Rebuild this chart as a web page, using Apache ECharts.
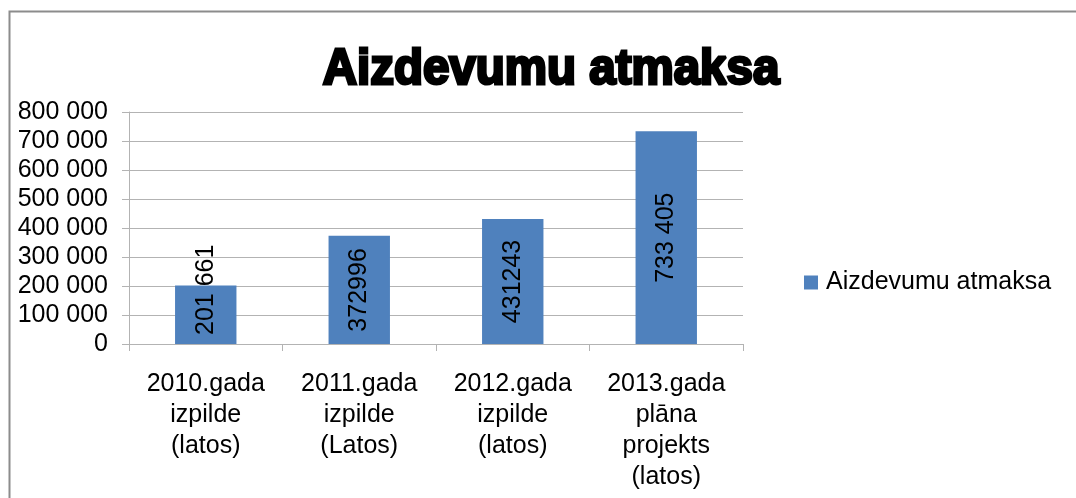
<!DOCTYPE html>
<html>
<head>
<meta charset="utf-8">
<script src="https://cdn.jsdelivr.net/npm/echarts@6/dist/echarts.min.js"></script>
<style>
  html, body { margin: 0; padding: 0; background: #ffffff; }
  #chart { width: 1076px; height: 498px; }
</style>
</head>
<body>
<div id="chart"></div>
<script>
// Loan repayment by year
const titleText = 'Aizdevumu atmaksa';
const seriesName = 'Aizdevumu atmaksa';
const categories = [
  '2010.gada\nizpilde\n(latos)',
  '2011.gada\nizpilde\n(Latos)',
  '2012.gada\nizpilde\n(latos)',
  '2013.gada\nplāna\nprojekts\n(latos)'
];
const values = [201661, 372996, 431243, 733405];
const valueLabels = ['201 661', '372996', '431243', '733 405'];
const yTicks = [0, 100000, 200000, 300000, 400000, 500000, 600000, 700000, 800000];

const FONT = '"Liberation Sans", Arial, sans-serif';
const GRID = '#b3b3b3';

function spaced(n) {
  return String(n).replace(/\B(?=(\d{3})+(?!\d))/g, ' ');
}

const chart = echarts.init(document.getElementById('chart'), null, { renderer: 'canvas' });

chart.setOption({
  animation: false,
  backgroundColor: '#ffffff',
  textStyle: { fontFamily: FONT },
  graphic: [
    {
      type: 'rect',
      shape: { x: 9.5, y: 11.5, width: 1100, height: 520 },
      style: { fill: null, stroke: '#8c8c8c', lineWidth: 2 },
      silent: true
    },
    {
      type: 'text',
      x: 551, y: 70,
      scaleX: 0.95,
      style: {
        text: titleText,
        fontFamily: FONT,
        fontWeight: 'bold',
        fontSize: 50,
        fill: '#000000',
        stroke: '#000000',
        lineWidth: 3,
        lineJoin: 'round',
        align: 'center',
        verticalAlign: 'middle'
      }
    }
  ],
  legend: {
    orient: 'vertical',
    left: 804,
    top: 270,
    padding: 0,
    itemWidth: 14,
    itemHeight: 14,
    itemGap: 4,
    icon: 'rect',
    textStyle: { fontFamily: FONT, fontSize: 25, color: '#000000', padding: [0, 0, 0, 3] },
    data: [seriesName]
  },
  grid: { left: 129, right: 333, top: 112, bottom: 154, containLabel: false },
  xAxis: {
    type: 'category',
    data: categories,
    axisLine: { show: true, lineStyle: { color: GRID, width: 1 } },
    axisTick: { show: true, alignWithLabel: false, length: 7, lineStyle: { color: GRID } },
    axisLabel: {
      interval: 0,
      margin: 25,
      fontFamily: FONT,
      fontSize: 25,
      color: '#000000',
      lineHeight: 31,
      align: 'center'
    }
  },
  yAxis: {
    type: 'value',
    min: yTicks[0],
    max: yTicks[yTicks.length - 1],
    interval: yTicks[1] - yTicks[0],
    axisLine: { show: true, lineStyle: { color: GRID, width: 1 } },
    axisTick: { show: true, length: 7, lineStyle: { color: GRID } },
    splitLine: { show: true, lineStyle: { color: GRID, width: 1 } },
    axisLabel: {
      margin: 21,
      fontFamily: FONT,
      fontSize: 25,
      color: '#000000',
      formatter: v => spaced(v)
    }
  },
  series: [
    {
      name: seriesName,
      type: 'bar',
      barWidth: '40%',
      itemStyle: { color: '#4f81bd' },
      label: {
        show: true,
        position: 'inside',
        rotate: 90,
        fontFamily: FONT,
        fontSize: 25,
        color: '#000000',
        formatter: p => valueLabels[p.dataIndex]
      },
      data: values.map((v, i) => i === 0
        ? { value: v, label: { offset: [25, 0] } }
        : v)
    }
  ]
});
</script>
</body>
</html>
